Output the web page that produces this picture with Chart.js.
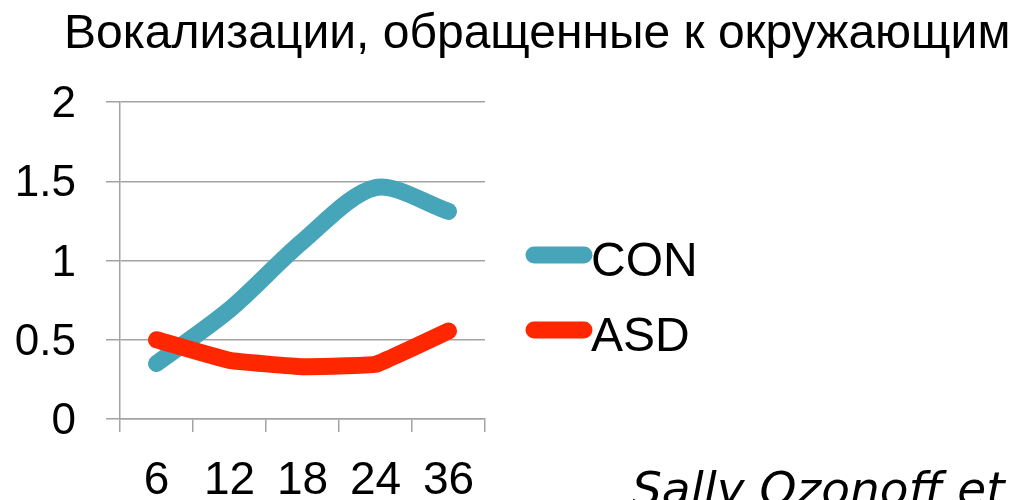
<!DOCTYPE html>
<html>
<head>
<meta charset="utf-8">
<script src="https://cdn.jsdelivr.net/npm/chart.js@4/dist/chart.umd.min.js"></script>
<style>
  html, body { margin: 0; padding: 0; background: #fff; }
  canvas { display: block; }
</style>
</head>
<body>
<canvas id="chart" width="1013" height="500"></canvas>
<script>
// Age in months
const months = ['6', '12', '18', '24', '36'];
// Rate of vocalizations directed to others
const conValues = [0.35, 0.69, 1.12, 1.46, 1.31];
const asdValues = [0.50, 0.37, 0.33, 0.345, 0.555];
const yTicks = [0, 0.5, 1, 1.5, 2];

const titleText = 'Вокализации, обращенные к окружающим';
const sourceText = 'Sally Ozonoff et al.';

const conColor = '#47A5BA';
const asdColor = '#FF2700';
const gridColor = '#a3a3a3';
const fontFamily = '"Liberation Sans", Arial, sans-serif';

// Title, legend and source line drawn directly on the canvas
const decorations = {
  id: 'decorations',
  afterDraw(chart) {
    const ctx = chart.ctx;
    ctx.save();
    ctx.fillStyle = '#000';
    ctx.textAlign = 'left';
    ctx.textBaseline = 'alphabetic';
    ctx.font = '48px ' + fontFamily;
    ctx.fillText(titleText, 64, 48);

    // legend: rounded line sample followed by the series name
    const rows = [255, 330];
    chart.data.datasets.forEach((ds, i) => {
      const y = rows[i];
      ctx.strokeStyle = ds.borderColor;
      ctx.lineWidth = ds.borderWidth;
      ctx.lineCap = 'round';
      ctx.beginPath();
      ctx.moveTo(534, y);
      ctx.lineTo(584, y);
      ctx.stroke();
      ctx.fillStyle = '#000';
      ctx.font = '48px ' + fontFamily;
      ctx.textBaseline = 'alphabetic';
      ctx.fillText(ds.label, 591, y + 21);
    });

    ctx.font = 'italic 47px "DejaVu Sans", sans-serif';
    ctx.fillText(sourceText, 632, 505);
    ctx.restore();
  }
};

new Chart(document.getElementById('chart'), {
  type: 'line',
  data: {
    labels: months,
    datasets: [
      {
        label: 'CON',
        data: conValues,
        borderColor: conColor,
        backgroundColor: conColor,
        borderWidth: 17,
        borderCapStyle: 'round',
        borderJoinStyle: 'round',
        pointRadius: 0,
        tension: 0.3,
        order: 1
      },
      {
        label: 'ASD',
        data: asdValues,
        borderColor: asdColor,
        backgroundColor: asdColor,
        borderWidth: 17,
        borderCapStyle: 'round',
        borderJoinStyle: 'round',
        pointRadius: 0,
        tension: 0.08,
        order: 0
      }
    ]
  },
  options: {
    responsive: false,
    animation: false,
    events: [],
    layout: { padding: { top: 102, right: 528, bottom: 0, left: 0 } },
    plugins: {
      legend: { display: false },
      title: { display: false },
      tooltip: { enabled: false }
    },
    scales: {
      x: {
        offset: true,
        grid: {
          offset: true,
          drawOnChartArea: false,
          drawTicks: true,
          tickLength: 13,
          color: gridColor,
          lineWidth: 1.5
        },
        border: { color: gridColor, width: 1.5 },
        ticks: {
          color: '#000',
          font: { family: fontFamily, size: 46 },
          padding: 22,
          maxRotation: 0,
          autoSkip: false
        },
        afterFit(scale) { scale.height = 81; }
      },
      y: {
        min: 0,
        max: 2,
        afterBuildTicks(scale) { scale.ticks = yTicks.map(v => ({ value: v })); },
        grid: {
          color: gridColor,
          lineWidth: 1.5,
          tickLength: 14
        },
        border: { color: gridColor, width: 1.5 },
        ticks: {
          color: '#000',
          font: { family: fontFamily, size: 44 },
          padding: 30,
          labelOffset: 3,
          callback: v => String(v)
        },
        afterFit(scale) { scale.width = 120; }
      }
    }
  },
  plugins: [decorations]
});
</script>
</body>
</html>
